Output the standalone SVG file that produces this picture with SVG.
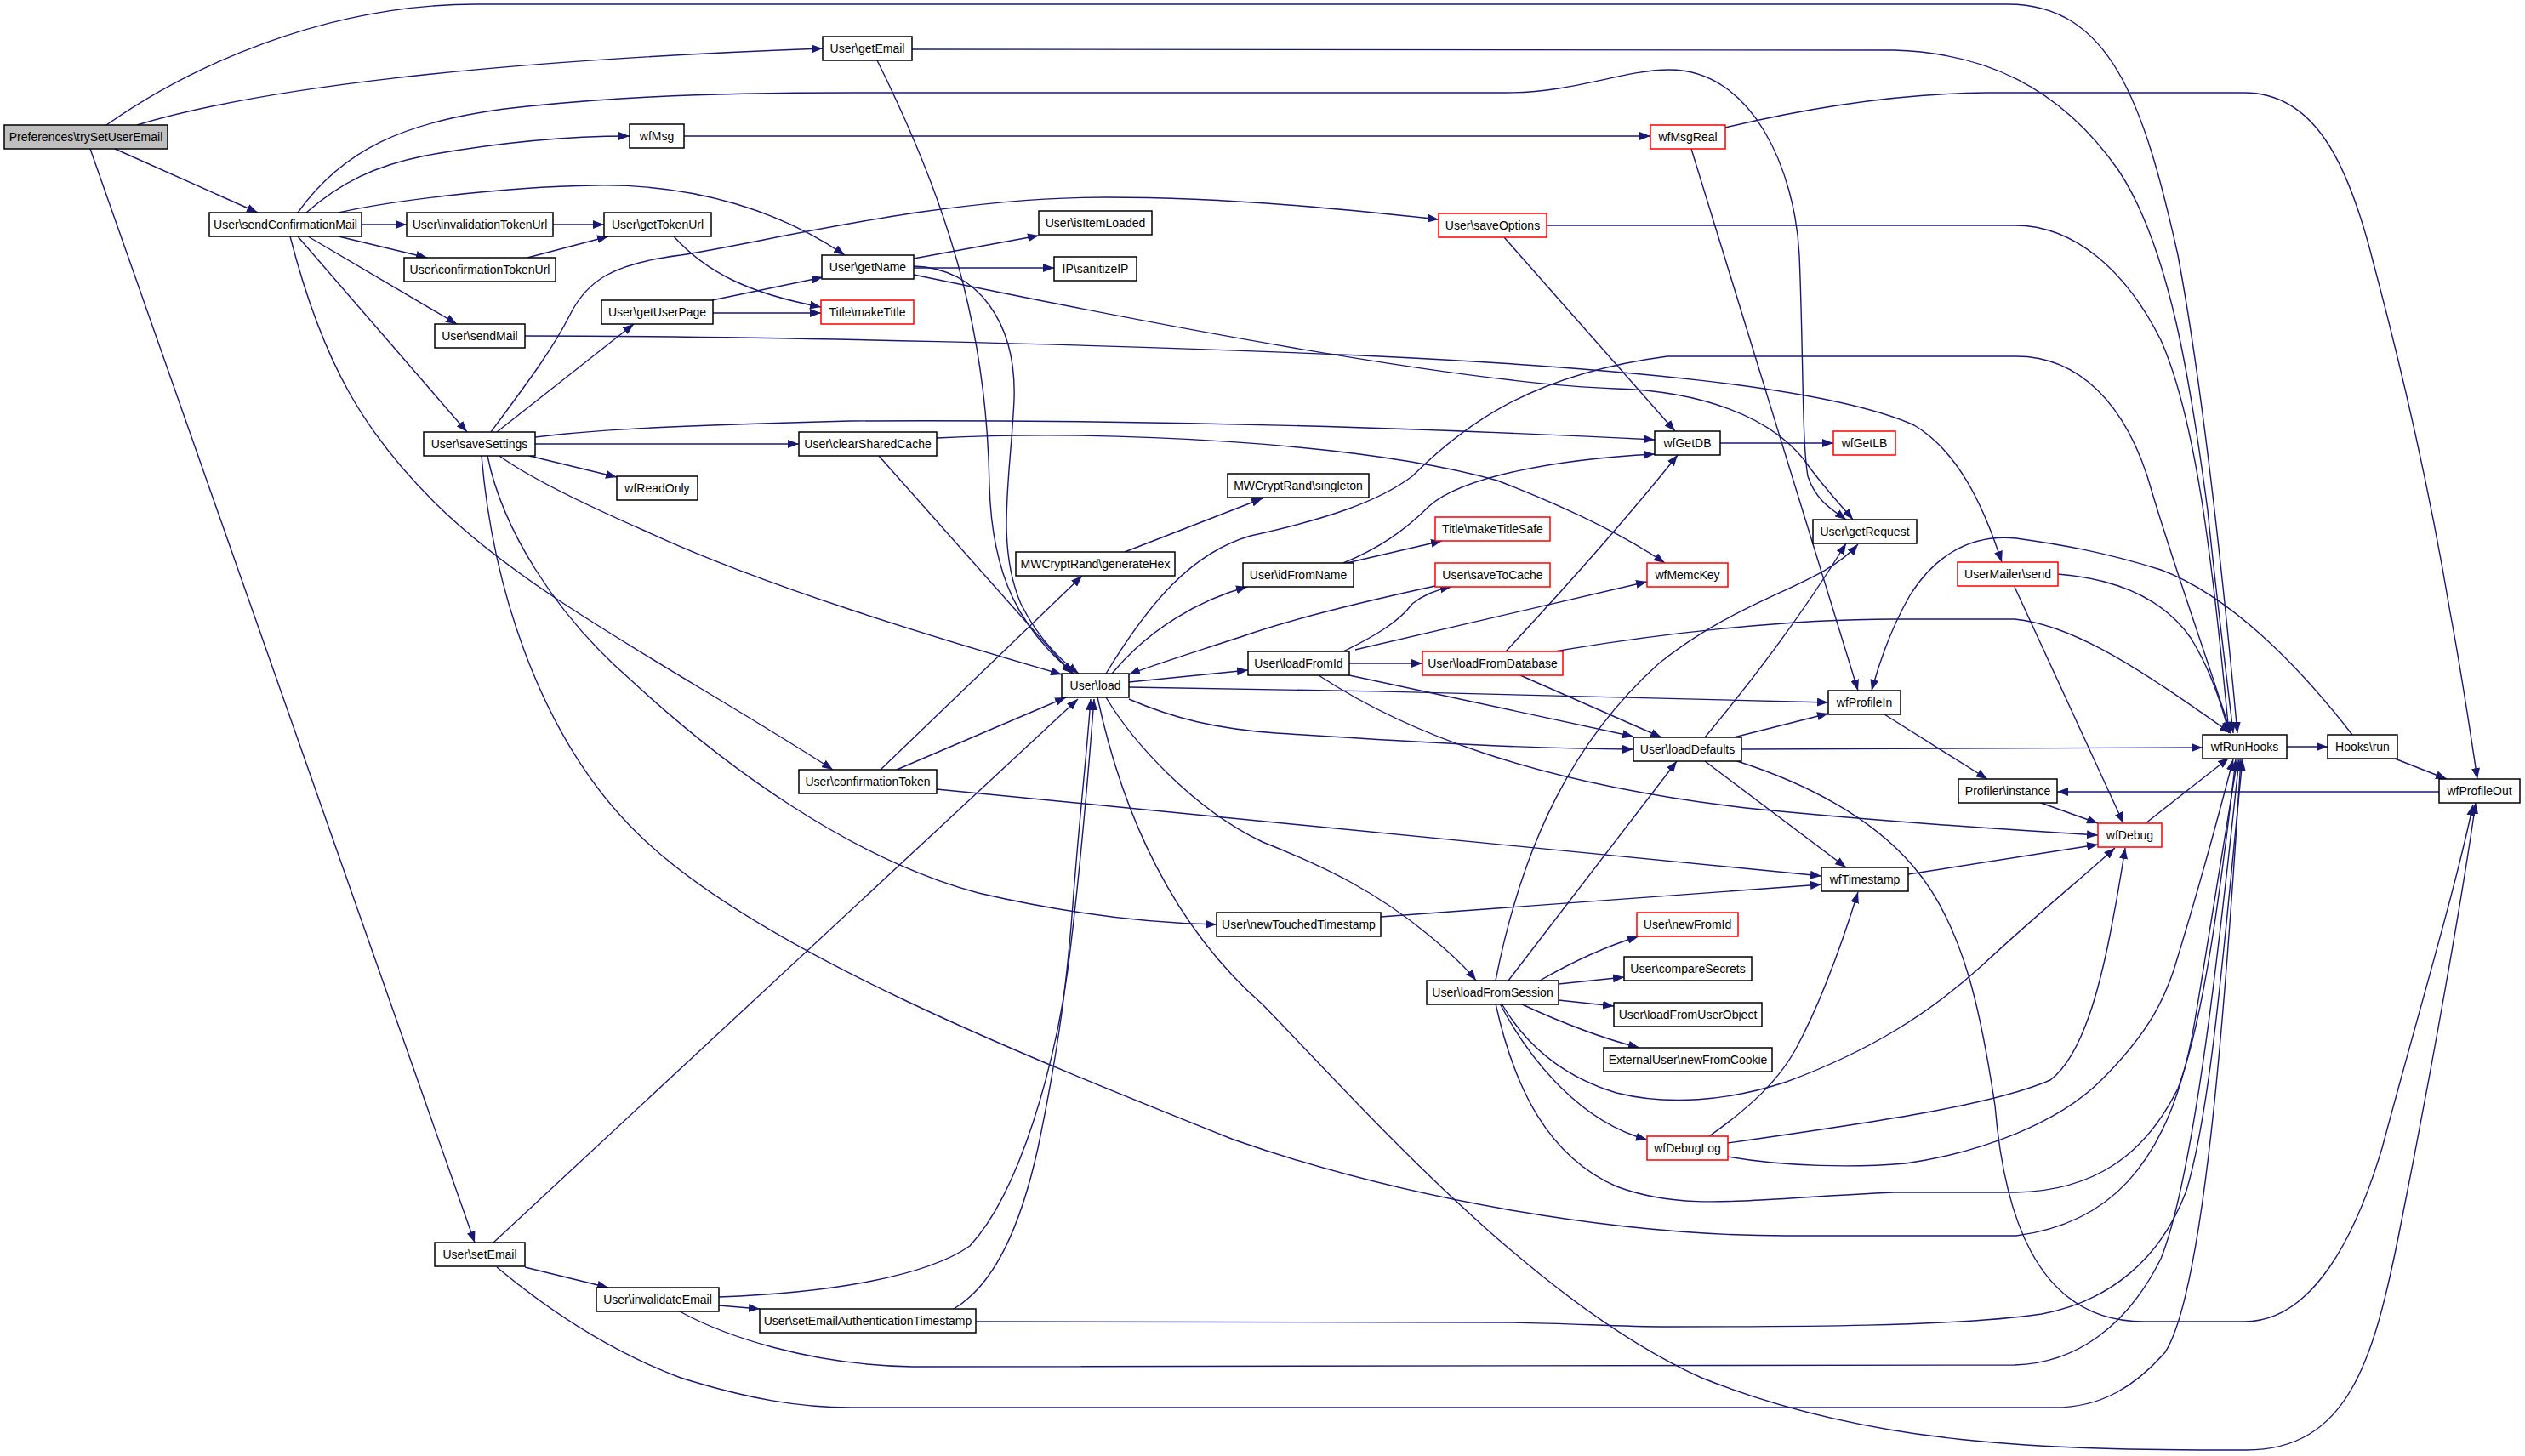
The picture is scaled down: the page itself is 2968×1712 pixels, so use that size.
<svg xmlns="http://www.w3.org/2000/svg" width="2968" height="1712" viewBox="0 0 2968 1712">
<style>
.n rect{fill:#fff;stroke:#000;stroke-width:1.5}
.r rect{fill:#fff;stroke:#ff0000;stroke-width:1.5}
.g rect{fill:#bfbfbf;stroke:#000;stroke-width:1.5}
text{font-family:"Liberation Sans",Arial,sans-serif;font-size:14px;text-anchor:middle;fill:#000}
.e path{fill:none;stroke:#191970;stroke-width:1.4;marker-end:url(#a)}
</style>
<defs>
<marker id="a" markerUnits="userSpaceOnUse" markerWidth="14" markerHeight="10" refX="13" refY="5" orient="auto"><path d="M0,0 L13,5 L0,10 z" fill="#191970"/></marker>
</defs>
<rect width="2968" height="1712" fill="#fff"/>
<g id="edges" class="e">
<path d="M125,147 C220,80 380,5 560,5 L2360,5 C2480,5 2520,120 2560,300 C2590,460 2615,700 2630,862"/>
<path d="M161,147 C300,105 560,72 967,57"/>
<path d="M135,175 L303,250"/>
<path d="M106,175 L558,1461"/>
<path d="M350,250 C400,180 470,140 620,125 C700,117 800,109 1000,109 L1770,109 C1850,109 1910,82 1962,82 C2060,82 2110,200 2115,300 C2120,420 2118,520 2125,560 C2135,590 2155,600 2170,611"/>
<path d="M360,250 C400,215 440,195 500,183 C600,165 680,160 740,160"/>
<path d="M398,250 C450,238 580,220 700,218 C820,216 920,250 993,300"/>
<path d="M425,264 L478,264"/>
<path d="M398,278 L502,303"/>
<path d="M362,278 L537,381"/>
<path d="M350,278 L549,508"/>
<path d="M341,278 C380,430 430,510 510,590 C620,700 800,790 979,905"/>
<path d="M650,264 L710,264"/>
<path d="M620,303 L715,278"/>
<path d="M792,278 C830,320 880,345 965,361"/>
<path d="M837,353 L967,326"/>
<path d="M838,368 L965,368"/>
<path d="M584,508 L745,381"/>
<path d="M577,508 C620,450 650,410 670,370 C690,330 720,310 800,300 C900,285 1100,232 1300,232 C1450,232 1600,248 1691,258"/>
<path d="M622,536 L725,561"/>
<path d="M629,522 L939,522"/>
<path d="M629,514 C700,505 800,500 1000,495 C1400,493 1700,505 1945,517"/>
<path d="M587,536 C620,560 680,590 760,625 C900,690 1100,750 1248,793"/>
<path d="M573,536 C590,620 650,720 742,800 C850,900 1000,1010 1150,1050 C1280,1080 1380,1086 1430,1087"/>
<path d="M566,536 C580,700 640,880 760,990 C900,1120 1200,1240 1450,1340 C1650,1410 1900,1453 2100,1453 L2370,1453 C2470,1440 2550,1380 2580,1200 C2600,1080 2620,950 2630,893"/>
<path d="M617,395 C900,395 1300,405 1600,418 C1900,432 2150,455 2250,500 C2300,530 2330,590 2353,661"/>
<path d="M1072,58 L2226,59 C2330,62 2420,100 2490,200 C2550,290 2575,450 2595,600 C2605,700 2618,800 2625,862"/>
<path d="M1031,71 C1110,230 1160,380 1163,571 C1166,680 1200,740 1262,792"/>
<path d="M1074,313 C1150,315 1195,380 1192,470 C1188,560 1170,640 1200,710 C1220,750 1245,775 1268,792"/>
<path d="M1074,304 L1221,277"/>
<path d="M1074,315 L1239,315"/>
<path d="M1074,323 C1300,370 1700,450 1900,457 C2000,460 2080,490 2120,540 C2145,575 2165,595 2178,611"/>
<path d="M1033,536 L1260,792"/>
<path d="M1101,515 C1300,505 1600,520 1760,565 C1850,600 1910,630 1957,662"/>
<path d="M804,160 L1940,160"/>
<path d="M1988,175 L2184,812"/>
<path d="M2028,150 C2120,128 2230,110 2335,109 L2638,109 C2720,109 2760,190 2790,310 C2830,460 2860,600 2880,720 C2895,800 2905,870 2912,916"/>
<path d="M1768,279 L1969,507"/>
<path d="M1818,265 L2368,265 C2440,265 2500,320 2540,400 C2580,490 2600,650 2620,862"/>
<path d="M2022,521 L2155,521"/>
<path d="M1579,662 C1620,645 1650,625 1680,595 C1720,560 1830,540 1945,534"/>
<path d="M1583,662 L1695,636"/>
<path d="M1770,766 C1850,680 1920,600 1972,535"/>
<path d="M1827,766 C1950,745 2100,728 2226,728 L2368,728 C2440,735 2520,790 2622,862"/>
<path d="M1787,794 L1953,867"/>
<path d="M1300,792 C1350,710 1400,650 1470,630 C1560,610 1620,590 1660,560 C1720,500 1800,440 1960,419 L2370,419 C2440,419 2500,470 2530,580 C2560,680 2600,790 2622,862"/>
<path d="M1307,792 C1350,740 1410,705 1466,690"/>
<path d="M1687,689 C1600,708 1520,728 1470,745 C1410,765 1360,780 1327,793"/>
<path d="M1327,802 L1467,788"/>
<path d="M1327,808 C1600,812 1900,818 2149,826"/>
<path d="M1327,822 C1380,845 1430,857 1500,862 C1700,875 1800,880 1920,881"/>
<path d="M1300,820 C1330,870 1400,950 1484,990 C1560,1020 1620,1050 1680,1100 C1710,1125 1725,1140 1735,1153"/>
<path d="M1290,820 C1320,960 1380,1090 1484,1181 C1600,1300 1800,1530 2000,1620 C2200,1700 2400,1705 2640,1705 C2760,1705 2790,1600 2820,1450 C2860,1250 2895,1050 2910,944"/>
<path d="M1054,905 L1253,820"/>
<path d="M1035,905 L1272,677"/>
<path d="M1101,928 L2141,1030"/>
<path d="M1322,649 L1484,586"/>
<path d="M1623,1078 L2141,1040"/>
<path d="M1579,766 C1620,746 1645,730 1660,710 C1675,698 1690,693 1706,690"/>
<path d="M1593,764 L1936,684"/>
<path d="M1586,780 L1672,780"/>
<path d="M1586,794 L1920,866"/>
<path d="M1550,794 C1650,860 1800,920 2052,950 C2200,965 2350,975 2466,982"/>
<path d="M2004,867 C2060,800 2120,720 2170,639"/>
<path d="M2038,867 L2149,839"/>
<path d="M2047,881 L2589,879"/>
<path d="M2004,895 L2170,1020"/>
<path d="M2042,895 C2120,920 2200,960 2250,1020 C2310,1090 2330,1200 2345,1300 C2355,1420 2390,1554 2520,1554 L2638,1554 C2720,1554 2770,1450 2800,1350 C2840,1200 2885,1050 2907,946"/>
<path d="M2243,1028 L2466,993"/>
<path d="M2215,840 L2336,916"/>
<path d="M2399,944 L2466,968"/>
<path d="M2522,968 L2620,891"/>
<path d="M2688,878 L2736,878"/>
<path d="M2815,892 L2876,916"/>
<path d="M2765,864 C2700,780 2620,700 2540,670 C2470,648 2420,640 2370,633 C2310,627 2270,660 2245,700 C2225,735 2210,775 2200,812"/>
<path d="M2867,931 L2418,931"/>
<path d="M2368,690 L2496,968"/>
<path d="M2419,675 C2480,680 2540,700 2575,750 C2600,790 2612,830 2620,862"/>
<path d="M580,1461 L1267,822"/>
<path d="M617,1490 L715,1514"/>
<path d="M584,1490 C650,1545 720,1590 800,1620 C880,1645 940,1655 1000,1655 L2415,1655 C2470,1655 2510,1630 2545,1590 C2590,1520 2615,1200 2634,893"/>
<path d="M845,1525 C980,1520 1090,1500 1140,1465 C1200,1400 1240,1250 1255,1141 C1268,1040 1280,900 1286,822"/>
<path d="M845,1535 L893,1539"/>
<path d="M799,1542 C850,1570 950,1605 1073,1607 L2368,1605 C2440,1603 2500,1560 2540,1480 C2580,1380 2610,1100 2632,893"/>
<path d="M1121,1539 C1170,1510 1200,1440 1220,1350 C1245,1230 1255,1150 1262,1050 C1270,950 1278,880 1282,822"/>
<path d="M1147,1554 L1770,1555 C1850,1556 1900,1560 1960,1560 C2100,1560 2300,1560 2400,1545 C2480,1530 2540,1480 2570,1400 C2600,1300 2615,1100 2636,893"/>
<path d="M1810,1153 C1850,1130 1890,1112 1926,1101"/>
<path d="M1832,1157 L1909,1149"/>
<path d="M1832,1176 L1897,1183"/>
<path d="M1787,1180 C1830,1200 1880,1220 1927,1232"/>
<path d="M1763,1180 C1800,1250 1860,1320 1936,1340"/>
<path d="M1765,1180 C1800,1240 1850,1270 1900,1285 C1960,1300 2030,1295 2100,1272 C2200,1235 2270,1190 2330,1135 C2400,1070 2450,1030 2486,997"/>
<path d="M1758,1180 C1780,1280 1820,1360 1900,1395 C1980,1425 2050,1410 2226,1402 L2370,1402 C2460,1400 2520,1360 2560,1280 C2590,1200 2610,1050 2628,893"/>
<path d="M1773,1153 L1971,895"/>
<path d="M1758,1153 C1790,990 1850,870 1950,780 C2050,700 2140,690 2184,640"/>
<path d="M2031,1344 C2200,1320 2340,1300 2410,1270 C2450,1240 2470,1150 2480,1100 C2488,1060 2493,1030 2498,997"/>
<path d="M2031,1360 C2100,1372 2180,1373 2240,1368 C2330,1355 2420,1320 2470,1270 C2530,1210 2545,1170 2555,1141 C2580,1060 2605,970 2625,893"/>
<path d="M2009,1336 C2060,1300 2090,1270 2110,1235 C2140,1180 2165,1110 2184,1049"/>
</g>
<g id="n1" class="g"><rect x="5" y="147" width="192" height="28"/><text x="101" y="166">Preferences\trySetUserEmail</text></g>
<g id="n2" class="n"><rect x="246" y="250" width="179" height="28"/><text x="335.5" y="269">User\sendConfirmationMail</text></g>
<g id="n3" class="n"><rect x="478" y="250" width="172" height="28"/><text x="564" y="269">User\invalidationTokenUrl</text></g>
<g id="n4" class="n"><rect x="710" y="250" width="126" height="28"/><text x="773" y="269">User\getTokenUrl</text></g>
<g id="n5" class="n"><rect x="475" y="303" width="178" height="28"/><text x="564" y="322">User\confirmationTokenUrl</text></g>
<g id="n6" class="n"><rect x="511" y="381" width="106" height="28"/><text x="564" y="400">User\sendMail</text></g>
<g id="n7" class="n"><rect x="498" y="508" width="131" height="28"/><text x="563.5" y="527">User\saveSettings</text></g>
<g id="n8" class="n"><rect x="707" y="353" width="131" height="28"/><text x="772.5" y="372">User\getUserPage</text></g>
<g id="n9" class="n"><rect x="725" y="560" width="95" height="28"/><text x="772.5" y="579">wfReadOnly</text></g>
<g id="n10" class="n"><rect x="967" y="43" width="105" height="28"/><text x="1019.5" y="62">User\getEmail</text></g>
<g id="n11" class="n"><rect x="740" y="146" width="64" height="28"/><text x="772" y="165">wfMsg</text></g>
<g id="n12" class="n"><rect x="966" y="300" width="108" height="28"/><text x="1020" y="319">User\getName</text></g>
<g id="n13" class="r"><rect x="965" y="353" width="109" height="28"/><text x="1019.5" y="372">Title\makeTitle</text></g>
<g id="n14" class="n"><rect x="1221" y="248" width="133" height="28"/><text x="1287.5" y="267">User\isItemLoaded</text></g>
<g id="n15" class="n"><rect x="1239" y="302" width="97" height="28"/><text x="1287.5" y="321">IP\sanitizeIP</text></g>
<g id="n16" class="n"><rect x="939" y="508" width="162" height="28"/><text x="1020" y="527">User\clearSharedCache</text></g>
<g id="n17" class="n"><rect x="1443" y="557" width="166" height="28"/><text x="1526" y="576">MWCryptRand\singleton</text></g>
<g id="n18" class="r"><rect x="1940" y="147" width="88" height="28"/><text x="1984" y="166">wfMsgReal</text></g>
<g id="n19" class="r"><rect x="1691" y="251" width="127" height="28"/><text x="1754.5" y="270">User\saveOptions</text></g>
<g id="n20" class="n"><rect x="1945" y="507" width="77" height="28"/><text x="1983.5" y="526">wfGetDB</text></g>
<g id="n21" class="r"><rect x="2155" y="507" width="73" height="28"/><text x="2191.5" y="526">wfGetLB</text></g>
<g id="n22" class="n"><rect x="1194" y="649" width="187" height="28"/><text x="1287.5" y="668">MWCryptRand\generateHex</text></g>
<g id="n23" class="n"><rect x="1248" y="792" width="79" height="28"/><text x="1287.5" y="811">User\load</text></g>
<g id="n24" class="n"><rect x="939" y="905" width="162" height="28"/><text x="1020" y="924">User\confirmationToken</text></g>
<g id="n25" class="n"><rect x="1430" y="1073" width="193" height="28"/><text x="1526.5" y="1092">User\newTouchedTimestamp</text></g>
<g id="n26" class="n"><rect x="1461" y="662" width="130" height="28"/><text x="1526" y="681">User\idFromName</text></g>
<g id="n27" class="r"><rect x="1687" y="608" width="135" height="28"/><text x="1754.5" y="627">Title\makeTitleSafe</text></g>
<g id="n28" class="r"><rect x="1687" y="662" width="135" height="28"/><text x="1754.5" y="681">User\saveToCache</text></g>
<g id="n29" class="r"><rect x="1936" y="662" width="95" height="28"/><text x="1983.5" y="681">wfMemcKey</text></g>
<g id="n30" class="n"><rect x="1467" y="766" width="119" height="28"/><text x="1526.5" y="785">User\loadFromId</text></g>
<g id="n31" class="r"><rect x="1672" y="766" width="165" height="28"/><text x="1754.5" y="785">User\loadFromDatabase</text></g>
<g id="n32" class="n"><rect x="2149" y="812" width="85" height="28"/><text x="2191.5" y="831">wfProfileIn</text></g>
<g id="n33" class="n"><rect x="1920" y="867" width="127" height="28"/><text x="1983.5" y="886">User\loadDefaults</text></g>
<g id="n34" class="n"><rect x="2141" y="1020" width="102" height="28"/><text x="2192" y="1039">wfTimestamp</text></g>
<g id="n35" class="r"><rect x="1924" y="1073" width="119" height="28"/><text x="1983.5" y="1092">User\newFromId</text></g>
<g id="n36" class="n"><rect x="1909" y="1125" width="150" height="28"/><text x="1984" y="1144">User\compareSecrets</text></g>
<g id="n37" class="n"><rect x="2131" y="611" width="122" height="28"/><text x="2192" y="630">User\getRequest</text></g>
<g id="n38" class="r"><rect x="2301" y="661" width="118" height="28"/><text x="2360" y="680">UserMailer\send</text></g>
<g id="n39" class="n"><rect x="2589" y="864" width="99" height="28"/><text x="2638.5" y="883">wfRunHooks</text></g>
<g id="n40" class="n"><rect x="2736" y="864" width="82" height="28"/><text x="2777" y="883">Hooks\run</text></g>
<g id="n41" class="n"><rect x="2302" y="916" width="116" height="28"/><text x="2360" y="935">Profiler\instance</text></g>
<g id="n42" class="n"><rect x="2867" y="916" width="95" height="28"/><text x="2914.5" y="935">wfProfileOut</text></g>
<g id="n43" class="r"><rect x="2466" y="968" width="75" height="28"/><text x="2503.5" y="987">wfDebug</text></g>
<g id="n44" class="n"><rect x="1677" y="1153" width="155" height="28"/><text x="1754.5" y="1172">User\loadFromSession</text></g>
<g id="n45" class="n"><rect x="1897" y="1179" width="174" height="28"/><text x="1984" y="1198">User\loadFromUserObject</text></g>
<g id="n46" class="n"><rect x="1885" y="1232" width="198" height="28"/><text x="1984" y="1251">ExternalUser\newFromCookie</text></g>
<g id="n47" class="r"><rect x="1936" y="1336" width="95" height="28"/><text x="1983.5" y="1355">wfDebugLog</text></g>
<g id="n48" class="n"><rect x="511" y="1461" width="106" height="28"/><text x="564" y="1480">User\setEmail</text></g>
<g id="n49" class="n"><rect x="701" y="1514" width="144" height="28"/><text x="773" y="1533">User\invalidateEmail</text></g>
<g id="n50" class="n"><rect x="893" y="1539" width="254" height="28"/><text x="1020" y="1558">User\setEmailAuthenticationTimestamp</text></g>
</svg>
